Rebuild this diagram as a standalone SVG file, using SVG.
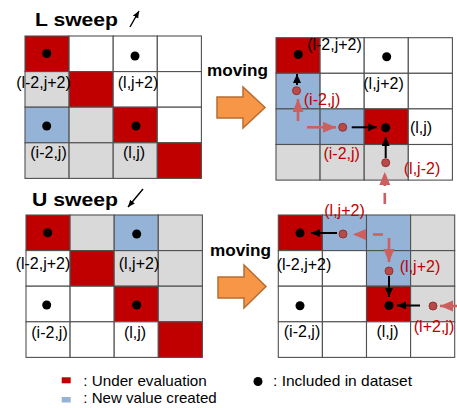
<svg xmlns="http://www.w3.org/2000/svg" width="457" height="408" viewBox="0 0 457 408">
<defs>
<style>
.R{fill:#C00000}.W{fill:#FFFFFF}.G{fill:#D9D9D9}.B{fill:#95B3D7}
.cells rect{stroke:#505050;stroke-width:1.1}
text{font-family:"Liberation Sans",Arial,sans-serif}
.lb{font-size:16px;text-anchor:middle;fill:#000}
.lr{font-size:16px;text-anchor:middle;fill:#C00000}
.ttl{font-size:19px;font-weight:bold}
.mv{font-size:17px;font-weight:bold}
.lg{font-size:15px}
.dot{fill:#000}
.rdot{fill:#B84A4A;stroke:#8E3232;stroke-width:1}
.dash{stroke:#CC5F5F;stroke-width:2.6;fill:none}
.blk{stroke:#000;stroke-width:2;fill:none}
.orange{fill:#F79646;stroke:#B66D31;stroke-width:1.5}
</style>
<marker id="hr" markerUnits="userSpaceOnUse" markerWidth="14" markerHeight="12" refX="13" refY="5.5" orient="auto"><path d="M0,0 L13,5.5 L0,11 z" fill="#CC5F5F"/></marker>
<marker id="hb" markerUnits="userSpaceOnUse" markerWidth="10" markerHeight="10" refX="9" refY="4" orient="auto"><path d="M0,0 L9,4 L0,8 z" fill="#000"/></marker>
<marker id="ht" markerUnits="userSpaceOnUse" markerWidth="8" markerHeight="8" refX="7" refY="3" orient="auto"><path d="M0,0 L7,3 L0,6 z" fill="#000"/></marker>
</defs>
<rect width="457" height="408" fill="#FFFFFF"/>

<g id="title-L">
<text class="ttl" x="35" y="26" textLength="83" lengthAdjust="spacingAndGlyphs">L sweep</text>
<line x1="130" y1="27" x2="139" y2="11" stroke="#000" stroke-width="1.4" marker-end="url(#ht)"/>
</g>
<g id="title-U">
<text class="ttl" x="32" y="206" textLength="86" lengthAdjust="spacingAndGlyphs">U sweep</text>
<line x1="143" y1="189" x2="128" y2="207" stroke="#000" stroke-width="1.4" marker-end="url(#ht)"/>
</g>

<g id="grid-L-before">
<g class="cells" transform="translate(25,36)">
<rect class="R" x="0" y="0" width="44.1" height="35.6"/><rect class="W" x="44.1" y="0" width="44.1" height="35.6"/><rect class="W" x="88.2" y="0" width="44.1" height="35.6"/><rect class="W" x="132.3" y="0" width="44.1" height="35.6"/>
<rect class="G" x="0" y="35.6" width="44.1" height="35.6"/><rect class="R" x="44.1" y="35.6" width="44.1" height="35.6"/><rect class="W" x="88.2" y="35.6" width="44.1" height="35.6"/><rect class="W" x="132.3" y="35.6" width="44.1" height="35.6"/>
<rect class="B" x="0" y="71.2" width="44.1" height="35.6"/><rect class="G" x="44.1" y="71.2" width="44.1" height="35.6"/><rect class="R" x="88.2" y="71.2" width="44.1" height="35.6"/><rect class="W" x="132.3" y="71.2" width="44.1" height="35.6"/>
<rect class="G" x="0" y="106.8" width="44.1" height="35.6"/><rect class="G" x="44.1" y="106.8" width="44.1" height="35.6"/><rect class="G" x="88.2" y="106.8" width="44.1" height="35.6"/><rect class="R" x="132.3" y="106.8" width="44.1" height="35.6"/>
</g>
<circle class="dot" cx="46.7" cy="53.5" r="4.5"/><circle class="dot" cx="135" cy="56" r="4.5"/>
<circle class="dot" cx="46.7" cy="126" r="4.5"/><circle class="dot" cx="136" cy="126" r="4.5"/>
<text class="lb" x="43.5" y="88">(l-2,j+2)</text>
<text class="lb" x="138" y="88">(l,j+2)</text>
<text class="lb" x="48.5" y="158">(i-2,j)</text>
<text class="lb" x="134" y="158">(l,j)</text>
</g>

<g id="moving-top">
<text class="mv" x="207" y="76" textLength="61" lengthAdjust="spacingAndGlyphs">moving</text>
<polygon class="orange" points="217,97 243,97 243,87 265,107.5 243,128 243,118 217,118"/>
</g>

<g id="grid-L-after">
<g class="cells" transform="translate(276,37.7)">
<rect class="R" x="0" y="0" width="44.1" height="35.6"/><rect class="W" x="44.1" y="0" width="44.1" height="35.6"/><rect class="W" x="88.2" y="0" width="44.1" height="35.6"/><rect class="W" x="132.3" y="0" width="44.1" height="35.6"/>
<rect class="B" x="0" y="35.6" width="44.1" height="35.6"/><rect class="W" x="44.1" y="35.6" width="44.1" height="35.6"/><rect class="W" x="88.2" y="35.6" width="44.1" height="35.6"/><rect class="W" x="132.3" y="35.6" width="44.1" height="35.6"/>
<rect class="B" x="0" y="71.2" width="44.1" height="35.6"/><rect class="B" x="44.1" y="71.2" width="44.1" height="35.6"/><rect class="R" x="88.2" y="71.2" width="44.1" height="35.6"/><rect class="W" x="132.3" y="71.2" width="44.1" height="35.6"/>
<rect class="G" x="0" y="106.8" width="44.1" height="35.6"/><rect class="G" x="44.1" y="106.8" width="44.1" height="35.6"/><rect class="G" x="88.2" y="106.8" width="44.1" height="35.6"/><rect class="W" x="132.3" y="106.8" width="44.1" height="35.6"/>
</g>
<circle class="dot" cx="298.3" cy="54.5" r="4.5"/><circle class="dot" cx="386.7" cy="56.7" r="4.5"/><circle class="dot" cx="385.7" cy="127.7" r="4.5"/>
<circle class="rdot" cx="296.5" cy="90.7" r="4"/><circle class="rdot" cx="342.7" cy="127.3" r="4"/><circle class="rdot" cx="385.7" cy="162.7" r="4"/>
<text class="lb" x="334.5" y="50">(l-2,j+2)</text>
<text class="lb" x="383.5" y="89">(l,j+2)</text>
<text class="lb" x="421" y="132.5">(l,j)</text>
<text class="lr" x="322" y="105">(i-2,j)</text>
<text class="lr" x="341.7" y="158.5">(i-2,j)</text>
<text class="lr" x="422" y="173.5">(l,j-2)</text>
</g>

<g id="grid-U-before">
<g class="cells" transform="translate(26,215)">
<rect class="R" x="0" y="0" width="44.1" height="35.6"/><rect class="G" x="44.1" y="0" width="44.1" height="35.6"/><rect class="B" x="88.2" y="0" width="44.1" height="35.6"/><rect class="G" x="132.3" y="0" width="44.1" height="35.6"/>
<rect class="W" x="0" y="35.6" width="44.1" height="35.6"/><rect class="R" x="44.1" y="35.6" width="44.1" height="35.6"/><rect class="G" x="88.2" y="35.6" width="44.1" height="35.6"/><rect class="G" x="132.3" y="35.6" width="44.1" height="35.6"/>
<rect class="W" x="0" y="71.2" width="44.1" height="35.6"/><rect class="W" x="44.1" y="71.2" width="44.1" height="35.6"/><rect class="R" x="88.2" y="71.2" width="44.1" height="35.6"/><rect class="G" x="132.3" y="71.2" width="44.1" height="35.6"/>
<rect class="W" x="0" y="106.8" width="44.1" height="35.6"/><rect class="W" x="44.1" y="106.8" width="44.1" height="35.6"/><rect class="W" x="88.2" y="106.8" width="44.1" height="35.6"/><rect class="R" x="132.3" y="106.8" width="44.1" height="35.6"/>
</g>
<circle class="dot" cx="47.7" cy="232.7" r="4.5"/><circle class="dot" cx="136.7" cy="234" r="4.5"/>
<circle class="dot" cx="46.7" cy="305" r="4.5"/><circle class="dot" cx="136.7" cy="305" r="4.5"/>
<text class="lb" x="43" y="268.5">(l-2,j+2)</text>
<text class="lb" x="139" y="268.5">(l,j+2)</text>
<text class="lb" x="49.5" y="337.5">(i-2,j)</text>
<text class="lb" x="135" y="337.5">(l,j)</text>
</g>

<g id="moving-bottom">
<text class="mv" x="210" y="256" textLength="61" lengthAdjust="spacingAndGlyphs">moving</text>
<polygon class="orange" points="218,277 244,277 244,265 266,286.5 244,308 244,298 218,298"/>
</g>

<g id="grid-U-after">
<g class="cells" transform="translate(278.3,215)">
<rect class="R" x="0" y="0" width="44.1" height="35.6"/><rect class="B" x="44.1" y="0" width="44.1" height="35.6"/><rect class="B" x="88.2" y="0" width="44.1" height="35.6"/><rect class="G" x="132.3" y="0" width="44.1" height="35.6"/>
<rect class="W" x="0" y="35.6" width="44.1" height="35.6"/><rect class="W" x="44.1" y="35.6" width="44.1" height="35.6"/><rect class="B" x="88.2" y="35.6" width="44.1" height="35.6"/><rect class="G" x="132.3" y="35.6" width="44.1" height="35.6"/>
<rect class="W" x="0" y="71.2" width="44.1" height="35.6"/><rect class="W" x="44.1" y="71.2" width="44.1" height="35.6"/><rect class="R" x="88.2" y="71.2" width="44.1" height="35.6"/><rect class="G" x="132.3" y="71.2" width="44.1" height="35.6"/>
<rect class="W" x="0" y="106.8" width="44.1" height="35.6"/><rect class="W" x="44.1" y="106.8" width="44.1" height="35.6"/><rect class="W" x="88.2" y="106.8" width="44.1" height="35.6"/><rect class="W" x="132.3" y="106.8" width="44.1" height="35.6"/>
</g>
<circle class="dot" cx="300" cy="233" r="4.5"/><circle class="dot" cx="389" cy="305.5" r="4.5"/><circle class="dot" cx="300" cy="305.7" r="4.5"/>
<circle class="rdot" cx="343" cy="234" r="4"/><circle class="rdot" cx="389" cy="271" r="4"/><circle class="rdot" cx="433" cy="306" r="4"/>
<text class="lr" x="344.5" y="215.5">(l,j+2)</text>
<text class="lb" x="304" y="270">(l-2,j+2)</text>
<text class="lr" x="420" y="272">(l,j+2)</text>
<text class="lb" x="302" y="337">(i-2,j)</text>
<text class="lb" x="387.5" y="337">(l,j)</text>
<text class="lr" x="434" y="332">(l+2,j)</text>
</g>

<g id="connectors">
<line class="dash" x1="298" y1="121" x2="298" y2="99" marker-end="url(#hr)"/>
<line class="dash" x1="307" y1="127.3" x2="336" y2="127.3" marker-end="url(#hr)"/>
<line class="dash" x1="384.8" y1="204" x2="384.8" y2="172" stroke-dasharray="11 7" marker-end="url(#hr)"/>
<line class="blk" x1="297" y1="85" x2="297" y2="74" marker-end="url(#hb)"/>
<line class="blk" x1="351.7" y1="127.3" x2="376.7" y2="127.3" marker-end="url(#hb)"/>
<line class="blk" x1="385.7" y1="158" x2="385.7" y2="137" marker-end="url(#hb)"/>
<line class="dash" x1="383" y1="234.5" x2="353" y2="234.5" stroke-dasharray="10 8" marker-end="url(#hr)"/>
<line class="dash" x1="389" y1="238" x2="389" y2="262" marker-end="url(#hr)"/>
<line class="dash" x1="460" y1="306" x2="440" y2="306" marker-end="url(#hr)"/>
<line class="blk" x1="337" y1="233" x2="311" y2="233" marker-end="url(#hb)"/>
<line class="blk" x1="389" y1="276" x2="389" y2="297" marker-end="url(#hb)"/>
<line class="blk" x1="420" y1="305.5" x2="397" y2="305.5" marker-end="url(#hb)"/>
</g>

<g id="legend">
<rect class="R" x="61.7" y="377.3" width="9" height="6"/>
<text class="lg" x="83.3" y="385.7" textLength="123.4" lengthAdjust="spacingAndGlyphs">: Under evaluation</text>
<rect class="B" x="61.7" y="397" width="9" height="5.5"/>
<text class="lg" x="83.3" y="402.7" textLength="133.4" lengthAdjust="spacingAndGlyphs">: New value created</text>
<circle class="dot" cx="258" cy="381.5" r="4.5"/>
<text class="lg" x="273" y="386" textLength="139" lengthAdjust="spacingAndGlyphs">: Included in dataset</text>
</g>
</svg>
